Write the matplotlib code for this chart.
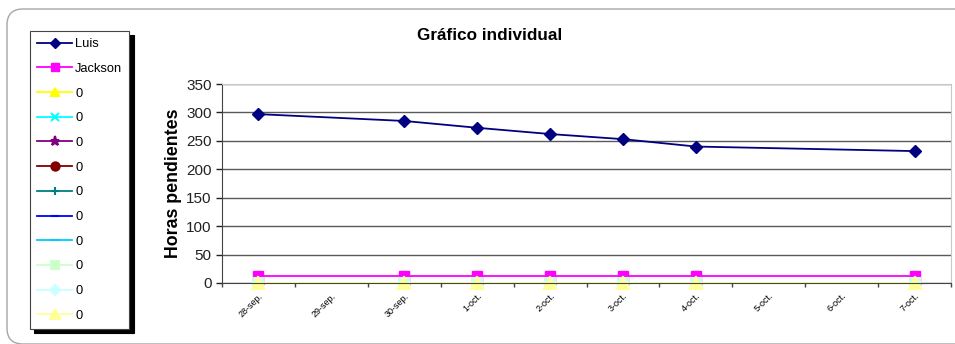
import numpy as np
import matplotlib.pyplot as plt
import matplotlib.patches as mpatches
from matplotlib.transforms import IdentityTransform

plt.rcParams['font.family'] = ['Liberation Sans', 'DejaVu Sans']

# axis days and the days that carry readings
days = ['28-sep.', '29-sep.', '30-sep.', '1-oct.', '2-oct.', '3-oct.',
        '4-oct.', '5-oct.', '6-oct.', '7-oct.']
obs_days = ['28-sep.', '30-sep.', '1-oct.', '2-oct.', '3-oct.', '4-oct.', '7-oct.']

luis = [297, 285, 273, 262, 253, 240, 232]
jackson = [13, 13, 13, 13, 13, 13, 13]
empty = [0, 0, 0, 0, 0, 0, 0]

# the ten unnamed series, all labelled "0"
empty_styles = [
    ('#ffff00', '^', 7),
    ('#00ffff', 'x', 6),
    ('#800080', '*', 8),
    ('#800000', 'o', 7),
    ('#008080', '+', 7),
    ('#0000ff', '_', 6),
    ('#00ccff', '_', 9),
    ('#ccffcc', 's', 7),
    ('#ccffff', 'D', 6),
    ('#ffff99', '^', 8),
]

x_obs = [days.index(d) for d in obs_days]

fig = plt.figure(figsize=(9.55, 3.44), dpi=100)

# rounded outer frame
frame = mpatches.FancyBboxPatch((7, 0), 1000, 335,
                                boxstyle='round,pad=0,rounding_size=16',
                                transform=IdentityTransform(), fill=False,
                                edgecolor='#a6a6a6', lw=1.0)
fig.patches.append(frame)

ax = fig.add_axes([222 / 955, 1 - 283 / 344, 729 / 955, 199 / 344])

ax.plot(x_obs, luis, color='#000080', marker='D', ms=6.5, lw=1.3, label='Luis')
ax.plot(x_obs, jackson, color='#ff00ff', marker='s', ms=7, lw=1.3, label='Jackson')
for c, m, s in empty_styles:
    ax.plot(x_obs, empty, color=c, marker=m, ms=s, lw=1.3, mew=1.5, label='0',
            clip_on=False)

ax.set_xlim(-0.5, len(days) - 0.5)
ax.set_ylim(0, 350)
ax.set_yticks(np.arange(0, 351, 50))
ax.tick_params(axis='y', labelsize=11, length=4, width=1, colors='#222222')
ax.yaxis.grid(True, color='#5a5a5a', lw=1)
ax.set_axisbelow(True)

ax.set_xticks(range(len(days)))
ax.set_xticklabels(days, rotation=45, ha='right', va='top',
                   rotation_mode='anchor', fontsize=6.5)
ax.tick_params(axis='x', length=0, pad=6)
ax.set_xticks(np.arange(-0.5, len(days), 1), minor=True)
ax.tick_params(axis='x', which='minor', length=3, width=1, color='#444444')

for side in ['top', 'right']:
    ax.spines[side].set_color('#c8c8c8')
ax.spines['left'].set_color('#444444')
ax.spines['bottom'].set_color('#444444')

ax.set_ylabel('Horas pendientes', fontsize=12.8, fontweight='bold', labelpad=3)
fig.text(490 / 955, 1 - 35 / 344, 'Gráfico individual', fontsize=12.3,
         fontweight='bold', ha='center', va='center')

leg = fig.legend(loc='upper left', bbox_to_anchor=(30 / 955, 1 - 31 / 344),
                 borderaxespad=0, fontsize=9.3, handlelength=2.7,
                 handletextpad=0.25, labelspacing=0.98, borderpad=0.55,
                 markerscale=0.85,
                 fancybox=False, edgecolor='#444444', framealpha=1,
                 shadow={'color': 'black', 'alpha': 1, 'ox': 3, 'oy': -3})
leg.get_frame().set_linewidth(0.8)

fig.savefig('out.png', dpi=100)
